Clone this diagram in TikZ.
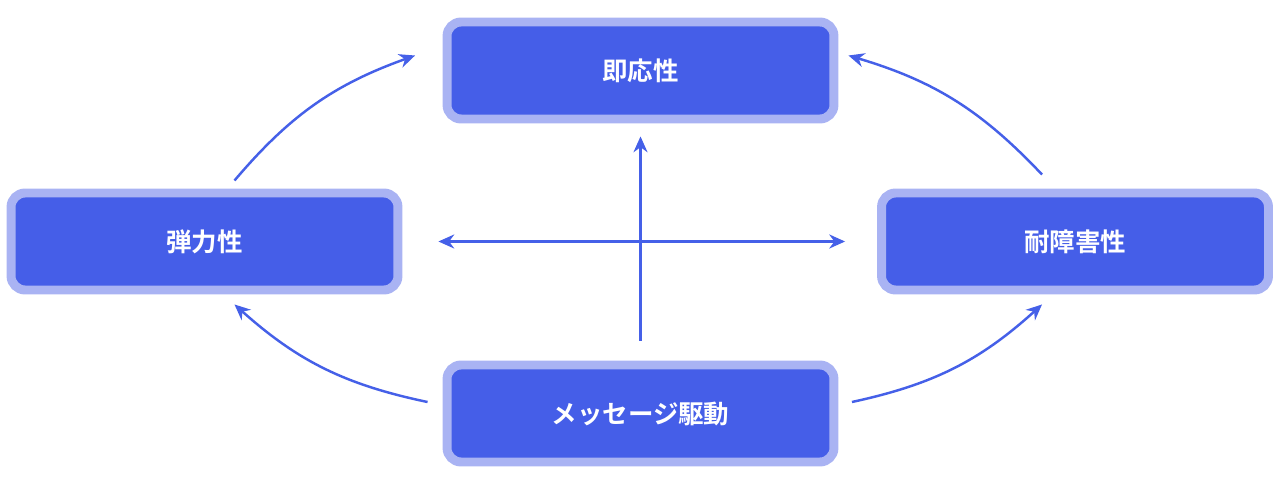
\documentclass[tikz,border=0pt]{standalone}
\usepackage{fontspec}
\newfontfamily\jpfont{Noto Sans CJK JP}[BoldFont={* Bold}]
\usetikzlibrary{arrows.meta,positioning}
\definecolor{boxfill}{HTML}{455EE8}
\definecolor{boxrim}{HTML}{A9B3F3}
\definecolor{arrowblue}{HTML}{4560E8}

\tikzset{
  pillar/.style={draw=boxrim, line width=5.1pt, fill=boxfill, rounded corners=8pt,
    minimum width=7.74cm, minimum height=1.94cm, text=white,
    font=\jpfont\bfseries\fontsize{14.5}{16}\selectfont},
  link/.style={draw=arrowblue, line width=1.4pt, -{Stealth[length=9pt,width=8pt]}}
}

\begin{document}
\begin{tikzpicture}[x=0.02cm,y=-0.02cm]
\useasboundingbox (0,0) rectangle (1280,479);

\node[pillar] (resp) at (640.5,70.5) {即応性};
\node[pillar] (elastic) at (204.5,241.5) {弾力性};
\node[pillar] (resil) at (1075,241.5) {耐障害性};
\node[pillar] (msg) at (640.5,413.5) {メッセージ駆動};

% center cross
\draw[link, shorten <=0.4cm, shorten >=0.26cm] (msg.north) -- (resp.south);
\draw[link, {Stealth[length=9pt,width=8pt]}-{Stealth[length=9pt,width=8pt]},
  shorten <=0.72cm, shorten >=0.64cm] (elastic.east) -- (resil.west);

% outer loop
\draw[link] ([xshift=0.6cm,yshift=0.16cm]elastic.north)
  to[bend left=15] ([xshift=-0.55cm,yshift=0.3cm]resp.west);
\draw[link] ([xshift=-0.66cm,yshift=0.28cm]resil.north)
  to[bend right=15] ([xshift=0.2cm,yshift=0.3cm]resp.east);
\draw[link] ([xshift=-0.3cm,yshift=0.23cm]msg.west)
  to[bend left=15] ([xshift=0.6cm,yshift=-0.2cm]elastic.south);
\draw[link] ([xshift=0.27cm,yshift=0.23cm]msg.east)
  to[bend right=15] ([xshift=-0.66cm,yshift=-0.2cm]resil.south);
\end{tikzpicture}
\end{document}
